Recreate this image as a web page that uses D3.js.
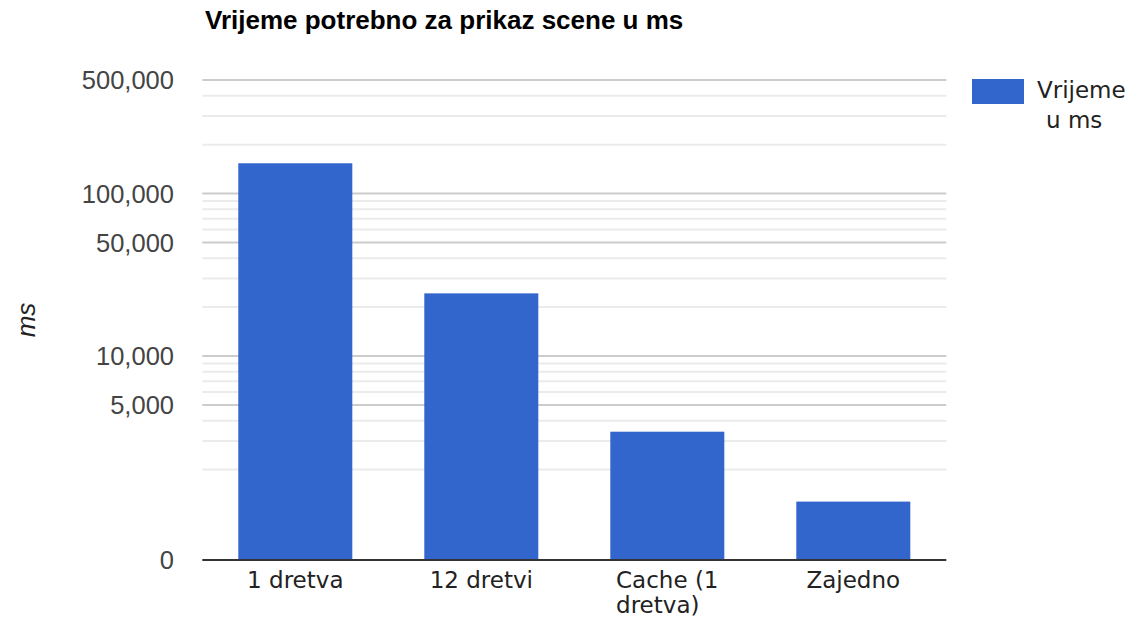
<!DOCTYPE html>
<html>
<head>
<meta charset="utf-8">
<script src="https://cdn.jsdelivr.net/npm/d3@7"></script>
<style>
  html, body { margin: 0; padding: 0; background: #fff; }
  svg { display: block; }
</style>
</head>
<body>
<svg id="chart" width="1141" height="618"></svg>
<script>
// Render time per scene configuration, in milliseconds
const categories = ["1 dretva", "12 dretvi", "Cache (1 dretva)", "Zajedno"];
const values = [153600, 24300, 3420, 1270];

// Labelled (major) and unlabelled (minor) gridline values on the log axis
const majorTicks = [500000, 100000, 50000, 10000, 5000];
const majorTickLabels = ["500,000", "100,000", "50,000", "10,000", "5,000"];
const minorTicks = [400000, 300000, 200000, 90000, 80000, 70000, 60000,
                    40000, 30000, 20000, 9000, 8000, 7000, 6000, 4000, 3000, 2000];
const baselineLabel = "0";

const titleText = "Vrijeme potrebno za prikaz scene u ms";
const yTitleText = "ms";
const legendLines = ["Vrijeme", "u ms"];

const svg = d3.select("#chart");
const plot = { left: 202.3, right: 946.3, top: 80, bottom: 560 };

const x = d3.scaleBand()
  .domain(categories)
  .range([plot.left, plot.right])
  .paddingInner(0.387)
  .paddingOuter(0.1935);

const y = d3.scaleLog()
  .domain([555, 500000])
  .range([plot.bottom, plot.top]);

const sans = "'Liberation Sans', Arial, sans-serif";
const dejavu = "'DejaVu Sans', Verdana, sans-serif";

// Minor gridlines
svg.append("g")
  .selectAll("line")
  .data(minorTicks)
  .join("line")
  .attr("x1", plot.left).attr("x2", plot.right)
  .attr("y1", d => y(d)).attr("y2", d => y(d))
  .attr("stroke", "#ebebeb").attr("stroke-width", 2);

// Major gridlines
svg.append("g")
  .selectAll("line")
  .data(majorTicks)
  .join("line")
  .attr("x1", plot.left).attr("x2", plot.right)
  .attr("y1", d => y(d)).attr("y2", d => y(d))
  .attr("stroke", "#cccccc").attr("stroke-width", 2);

// Tick labels
const tickG = svg.append("g")
  .attr("font-family", sans).attr("font-size", 25.5).attr("fill", "#444");
tickG.selectAll("text")
  .data(majorTicks)
  .join("text")
  .attr("x", 174)
  .attr("y", d => y(d))
  .attr("dy", "0.36em")
  .attr("text-anchor", "end")
  .text((d, i) => majorTickLabels[i]);
tickG.append("text")
  .attr("x", 174)
  .attr("y", y.range()[0])
  .attr("dy", "0.36em")
  .attr("text-anchor", "end")
  .text(baselineLabel);

// Bars
svg.append("g")
  .selectAll("rect")
  .data(values)
  .join("rect")
  .attr("x", (d, i) => x(categories[i]))
  .attr("width", x.bandwidth())
  .attr("y", d => y(d))
  .attr("height", d => y.range()[0] - y(d))
  .attr("fill", "#3366cc");

// Baseline
svg.append("line")
  .attr("x1", plot.left).attr("x2", plot.right)
  .attr("y1", plot.bottom).attr("y2", plot.bottom)
  .attr("stroke", "#333").attr("stroke-width", 2);

// Category labels, wrapped to the band step and left-aligned as a centred block
const xLabelG = svg.append("g")
  .attr("font-family", dejavu).attr("font-size", 23).attr("fill", "#222");
categories.forEach(cat => {
  const maxW = x.step() * 0.95;
  const g = xLabelG.append("g");
  const probe = g.append("text");
  const words = cat.split(" ");
  const lines = [];
  let line = [];
  words.forEach(w => {
    const test = line.concat([w]).join(" ");
    probe.text(test);
    if (probe.node().getComputedTextLength() > maxW && line.length) {
      lines.push(line.join(" "));
      line = [w];
    } else {
      line.push(w);
    }
  });
  if (line.length) lines.push(line.join(" "));
  let widest = 0;
  lines.forEach(l => { probe.text(l); widest = Math.max(widest, probe.node().getComputedTextLength()); });
  probe.remove();
  const cx = x(cat) + x.bandwidth() / 2;
  lines.forEach((l, i) => {
    g.append("text")
      .attr("x", lines.length > 1 ? cx - widest / 2 : cx)
      .attr("text-anchor", lines.length > 1 ? "start" : "middle")
      .attr("y", 588 + i * 25)
      .text(l);
  });
});

// Title
svg.append("text")
  .attr("x", 205).attr("y", 29)
  .attr("font-family", sans).attr("font-size", 26).attr("font-weight", "bold")
  .attr("fill", "#000")
  .text(titleText);

// Y axis title
svg.append("text")
  .attr("transform", `translate(35, ${(plot.top + plot.bottom) / 2}) rotate(-90)`)
  .attr("text-anchor", "middle")
  .attr("font-family", sans).attr("font-size", 26).attr("font-style", "italic")
  .attr("fill", "#222")
  .text(yTitleText);

// Legend
const legend = svg.append("g").attr("transform", "translate(972, 79)");
legend.append("rect").attr("width", 52).attr("height", 25).attr("fill", "#3366cc");
legend.append("text")
  .attr("x", 65).attr("y", 19)
  .attr("font-family", dejavu).attr("font-size", 23).attr("fill", "#222")
  .text(legendLines[0]);
legend.append("text")
  .attr("x", 74).attr("y", 49)
  .attr("font-family", dejavu).attr("font-size", 23).attr("fill", "#222")
  .text(legendLines[1]);
</script>
</body>
</html>
